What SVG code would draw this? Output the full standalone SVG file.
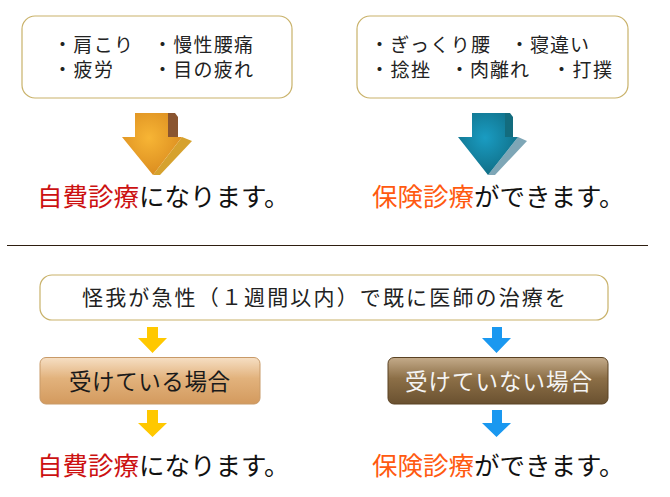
<svg xmlns="http://www.w3.org/2000/svg" width="670" height="497" viewBox="0 0 670 497">
<style>
text{font-family:"Noto Sans CJK JP","Noto Sans",sans-serif;}
.box{fill:#fff;stroke:#c9b26a;stroke-width:1.2;}
.item{font-size:19px;fill:#222;}
.res{font-size:25.5px;fill:#111;}
.red{fill:#cc1111;}
.org{fill:#ff5a10;}
.cond{font-size:21px;fill:#222;}
.btn{font-size:22.5px;}
.ya{fill:#ffc800;}
.ba{fill:#1a98f0;}
</style>
<defs>
<radialGradient id="og" cx="0.45" cy="0.4" r="0.65">
<stop offset="0" stop-color="#f7b535"/>
<stop offset="1" stop-color="#d98a1e"/>
</radialGradient>
<radialGradient id="bg" cx="0.45" cy="0.4" r="0.65">
<stop offset="0" stop-color="#1a9cc2"/>
<stop offset="1" stop-color="#0f6b82"/>
</radialGradient>
<linearGradient id="b1" x1="0" y1="0" x2="0" y2="1">
<stop offset="0" stop-color="#f6dfc4"/>
<stop offset="0.45" stop-color="#e2b27c"/>
<stop offset="1" stop-color="#d39a5e"/>
</linearGradient>
<linearGradient id="b2" x1="0" y1="0" x2="0" y2="1">
<stop offset="0" stop-color="#c4ab8a"/>
<stop offset="0.45" stop-color="#8c6f47"/>
<stop offset="1" stop-color="#6a5130"/>
</linearGradient>
</defs>

<g id="box-left">
<rect class="box" x="22" y="16" width="270" height="82" rx="13"/>
<text class="item" x="53" y="52" textLength="80" lengthAdjust="spacing">・肩こり</text>
<text class="item" x="153" y="52" textLength="100" lengthAdjust="spacing">・慢性腰痛</text>
<text class="item" x="53" y="77" textLength="60" lengthAdjust="spacing">・疲労</text>
<text class="item" x="153" y="77" textLength="100" lengthAdjust="spacing">・目の疲れ</text>
</g>

<g id="box-right">
<rect class="box" x="357" y="16" width="271" height="82" rx="13"/>
<text class="item" x="370" y="52" textLength="120" lengthAdjust="spacing">・ぎっくり腰</text>
<text class="item" x="510" y="52" textLength="79" lengthAdjust="spacing">・寝違い</text>
<text class="item" x="370" y="77" textLength="60" lengthAdjust="spacing">・捻挫</text>
<text class="item" x="450" y="77" textLength="79" lengthAdjust="spacing">・肉離れ</text>
<text class="item" x="552" y="77" textLength="60" lengthAdjust="spacing">・打撲</text>
</g>

<g id="arrow-orange">
<polygon points="168,113 175,113 178,117 178,137 168,137" fill="#8a5530"/>
<polygon points="182,137 192,141 160,175 153,175" fill="#d6a22e"/>
<polygon points="135,113 168,113 168,137 182,137 153,175 122,137 135,137" fill="url(#og)"/>
</g>

<g id="arrow-blue">
<polygon points="505,113 510,113 513,117 513,137 505,137" fill="#136c7e"/>
<polygon points="518,137 527,141 495,175 488,175" fill="#7ea6b6"/>
<polygon points="472,113 505,113 505,137 518,137 488,175 458,137 472,137" fill="url(#bg)"/>
</g>

<g id="result-top-left">
<text class="res" x="37" y="206"><tspan class="red">自費診療</tspan>になります。</text>
</g>
<g id="result-top-right">
<text class="res" x="372" y="206"><tspan class="org">保険診療</tspan>ができます。</text>
</g>

<line x1="7" y1="245.5" x2="648" y2="245.5" stroke="#2e1e10" stroke-width="1"/>

<g id="condition">
<rect class="box" x="40" y="275" width="568" height="45" rx="12"/>
<text class="cond" x="82" y="305" textLength="484" lengthAdjust="spacing">怪我が急性（１週間以内）で既に医師の治療を</text>
</g>

<g id="btn-yes">
<rect x="40" y="357.5" width="220" height="46.5" rx="6" fill="url(#b1)" stroke="#c89a68" stroke-width="1"/>
<text class="btn" x="69" y="390" fill="#1a1a1a" textLength="161" lengthAdjust="spacing">受けている場合</text>
</g>
<g id="btn-no">
<rect x="388" y="357.5" width="220" height="46.5" rx="6" fill="url(#b2)" stroke="#5a4223" stroke-width="1"/>
<text class="btn" x="405" y="390" fill="#f4f4f4" textLength="187" lengthAdjust="spacing">受けていない場合</text>
</g>

<g id="result-bottom-left">
<text class="res" x="37" y="475"><tspan class="red">自費診療</tspan>になります。</text>
</g>
<g id="result-bottom-right">
<text class="res" x="372" y="475"><tspan class="org">保険診療</tspan>ができます。</text>
</g>

<g id="connectors">
<polygon class="ya" points="147,327 158,327 158,338 167,338 152.5,353 138,338 147,338"/>
<polygon class="ya" points="147,410 158,410 158,423 167,423 152.5,437 138,423 147,423"/>
<polygon class="ba" points="492,327 502,327 502,338 511,338 496.5,353 482,338 492,338"/>
<polygon class="ba" points="492,410 502,410 502,423 511,423 496.5,437 482,423 492,423"/>
</g>
</svg>
